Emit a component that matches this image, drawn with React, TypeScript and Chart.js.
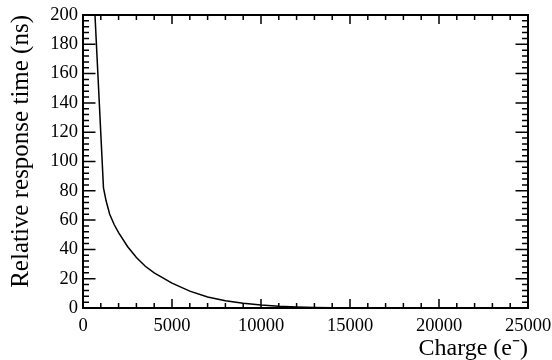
import React, { useEffect, useRef } from "react";
import { Chart, registerables } from "chart.js";

Chart.register(...registerables);

const charge = [600, 1150, 1300, 1500, 1750, 2000, 2500, 3000, 3500, 4000, 5000, 6000, 7000, 8000, 9000, 10000, 11000, 12000, 13000, 14000, 15000, 17000, 20000, 25000];
const response = [218, 82, 73, 64, 57, 51.5, 42, 34.5, 28.5, 24, 17, 11.5, 7.5, 5, 3.2, 2, 1.2, 0.7, 0.4, 0.2, 0.1, 0.03, 0, 0];

const xMin = 0, xMax = 25000, xMajor = 5000, xMinor = 1000;
const yMin = 0, yMax = 200, yMajor = 20, yMinor = 4;

const FONT = "'Liberation Serif', 'Times New Roman', serif";

const frameTicks = {
  id: "frameTicks",
  afterDatasetsDraw(chart: any) {
    const { ctx, chartArea: a, scales } = chart;
    const xs = scales.x, ys = scales.y;
    ctx.save();
    ctx.strokeStyle = "#000";
    ctx.lineWidth = 1.5;
    ctx.beginPath();
    for (let v = xMin; v <= xMax + 0.1; v += xMinor) {
      const px = xs.getPixelForValue(v);
      const len = v % xMajor === 0 ? 9 : 5;
      ctx.moveTo(px, a.bottom);
      ctx.lineTo(px, a.bottom - len);
      ctx.moveTo(px, a.top);
      ctx.lineTo(px, a.top + len);
    }
    for (let v = yMin; v <= yMax + 0.01; v += yMinor) {
      const py = ys.getPixelForValue(v);
      const len = v % yMajor === 0 ? 12.5 : 6;
      ctx.moveTo(a.left, py);
      ctx.lineTo(a.left + len, py);
      ctx.moveTo(a.right, py);
      ctx.lineTo(a.right - len, py);
    }
    ctx.stroke();
    ctx.lineWidth = 2;
    ctx.strokeRect(a.left, a.top, a.right - a.left, a.bottom - a.top);
    ctx.restore();
  },
};

export default function App() {
  const ref = useRef<HTMLCanvasElement>(null);
  useEffect(() => {
    document.body.style.margin = "0";
    const chart = new Chart(ref.current!, {
      type: "line",
      data: {
        datasets: [
          {
            data: charge.map((c, i) => ({ x: c, y: response[i] })),
            borderColor: "#000",
            borderWidth: 1.5,
            pointRadius: 0,
            tension: 0,
            fill: false,
          },
        ],
      },
      options: {
        animation: false,
        responsive: false,
        maintainAspectRatio: false,
        layout: { padding: { top: 15, right: 24, left: 0, bottom: 0 } },
        plugins: { legend: { display: false }, tooltip: { enabled: false } },
        scales: {
          x: {
            type: "linear",
            min: xMin,
            max: xMax,
            afterFit: (s: any) => { s.height = 52; s.paddingLeft = 0; s.paddingRight = 0; },
            ticks: {
              stepSize: xMajor,
              color: "#000",
              padding: 7,
              maxRotation: 0,
              autoSkip: false,
              font: { family: FONT, size: 18.5 },
              callback: (v: any) => String(v),
            },
            grid: { display: false, drawTicks: false },
            border: { display: false },
            title: {
              display: true,
              text: "Charge (e⁻)",
              align: "end",
              color: "#000",
              font: { family: FONT, size: 24, lineHeight: 1 },
              padding: { top: 0, bottom: -1 },
            },
          },
          y: {
            type: "linear",
            min: yMin,
            max: yMax,
            afterFit: (s: any) => { s.width = 83; s.paddingTop = 0; s.paddingBottom = 0; },
            ticks: {
              stepSize: yMajor,
              color: "#000",
              padding: 5,
              font: { family: FONT, size: 18.5 },
              callback: (v: any) => String(v),
            },
            grid: { display: false, drawTicks: false },
            border: { display: false },
            title: {
              display: true,
              text: "Relative response time (ns)",
              align: "end",
              color: "#000",
              font: { family: FONT, size: 25, lineHeight: 1 },
              padding: { top: 9, bottom: 0 },
            },
          },
        },
      },
      plugins: [frameTicks],
    });
    return () => chart.destroy();
  }, []);
  return <canvas ref={ref} width={552} height={360} style={{ display: "block" }} />;
}
